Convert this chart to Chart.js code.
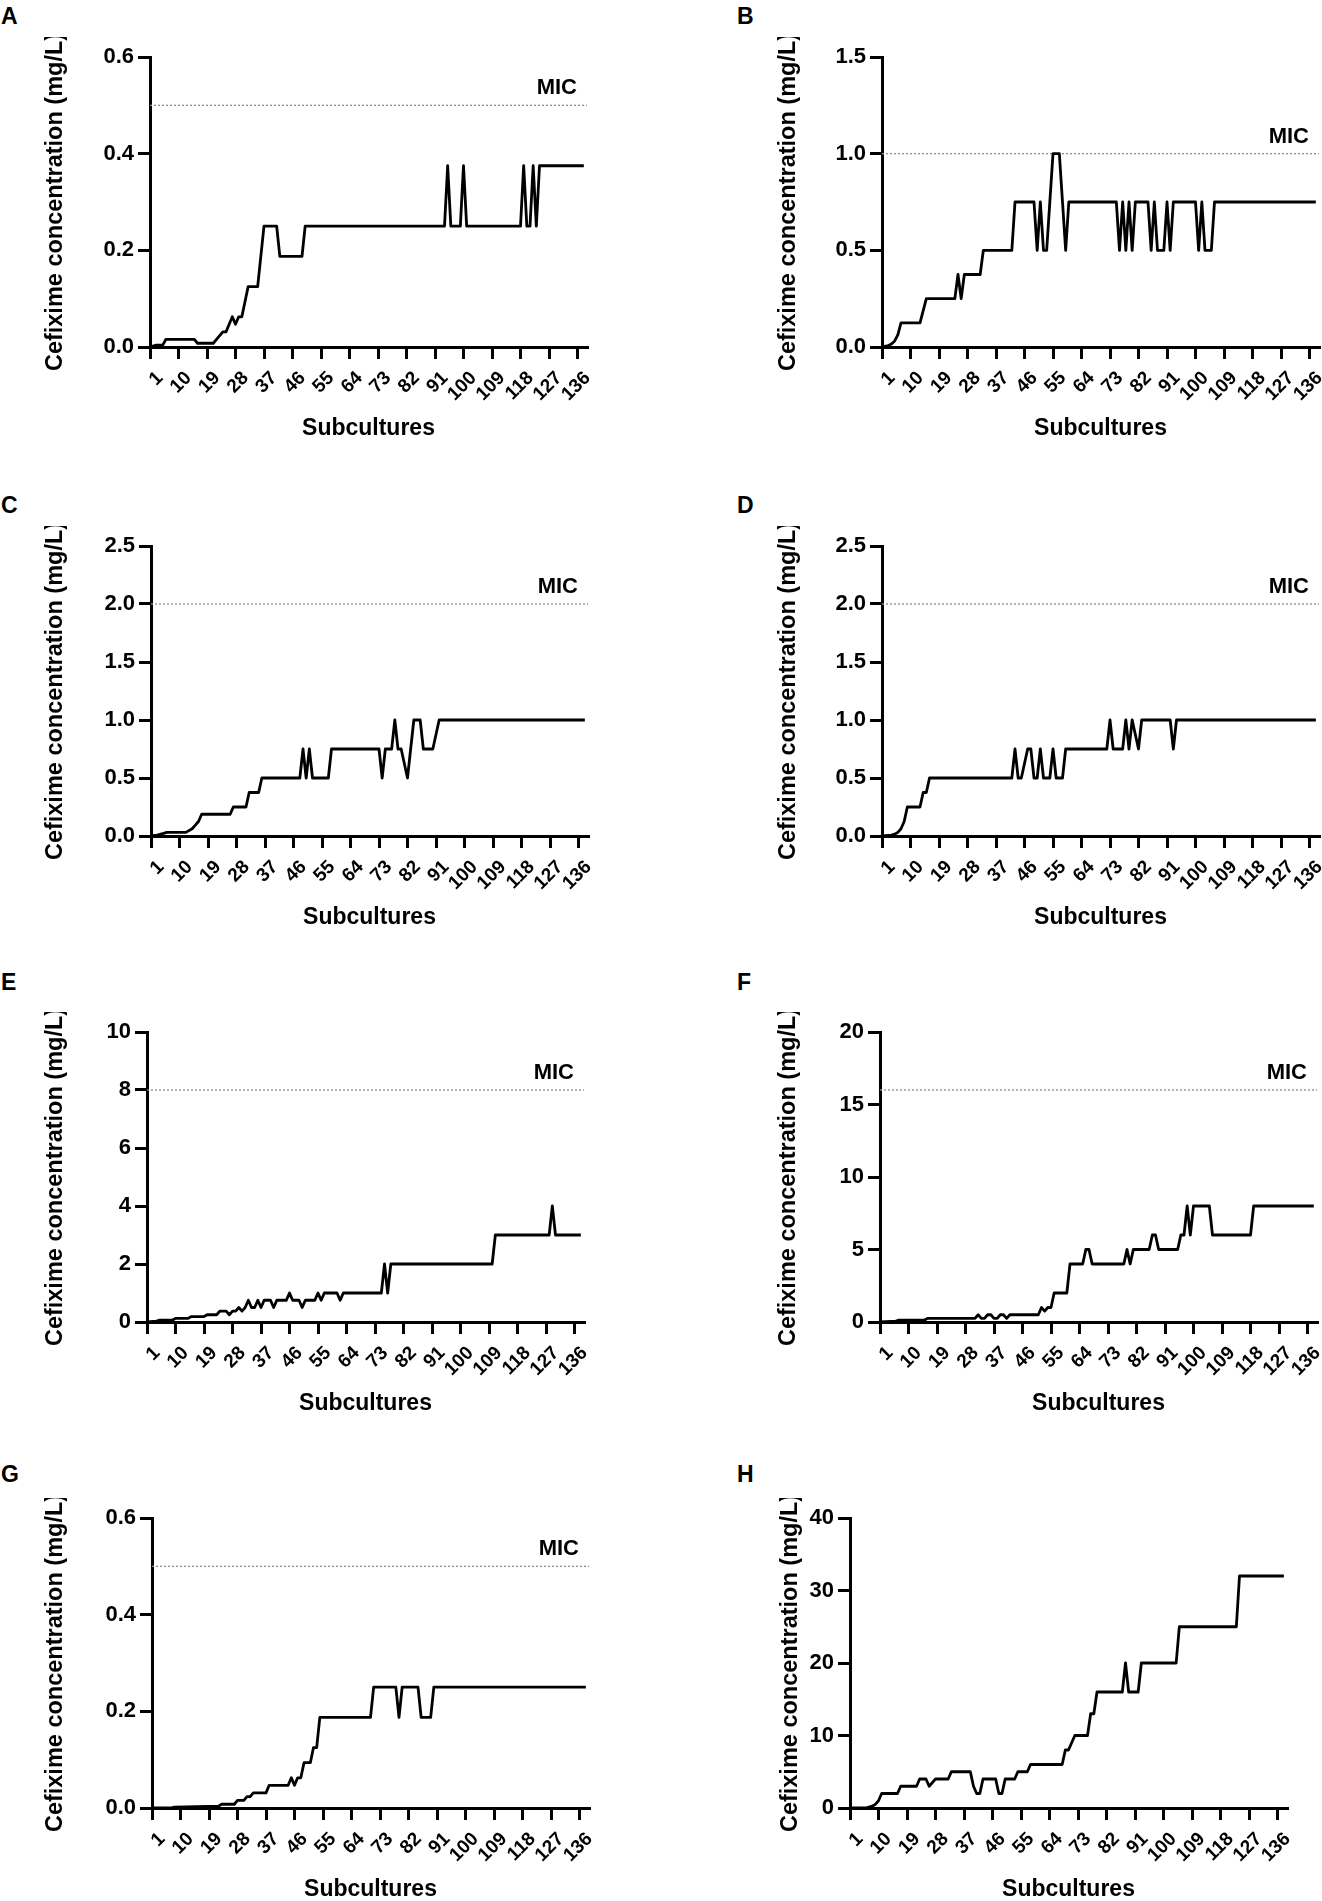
<!DOCTYPE html>
<html>
<head>
<meta charset="utf-8">
<script src="https://cdn.jsdelivr.net/npm/chart.js@4.4.1/dist/chart.umd.min.js"></script>
<style>
html,body{margin:0;padding:0;background:#fff;width:1322px;height:1901px;overflow:hidden;position:relative;}
canvas{position:absolute;}
.letter{position:absolute;font:bold 23px "Liberation Sans",Arial,sans-serif;color:#000;line-height:1;}
</style>
</head>
<body>
<div class="letter" style="left:1px;top:5px">A</div>
<div class="letter" style="left:737px;top:5px">B</div>
<div class="letter" style="left:1px;top:494px">C</div>
<div class="letter" style="left:737px;top:494px">D</div>
<div class="letter" style="left:1px;top:971px">E</div>
<div class="letter" style="left:737px;top:971px">F</div>
<div class="letter" style="left:1px;top:1463px">G</div>
<div class="letter" style="left:737px;top:1463px">H</div>

<canvas id="cA"></canvas><canvas id="cB"></canvas>
<canvas id="cC"></canvas><canvas id="cD"></canvas>
<canvas id="cE"></canvas><canvas id="cF"></canvas>
<canvas id="cG"></canvas><canvas id="cH"></canvas>

<script>
// ---------- DATA (subculture number, cefixime concentration mg/L) ----------
const xTickValues = [1, 10, 19, 28, 37, 46, 55, 64, 73, 82, 91, 100, 109, 118, 127, 136];
const xMin = 1, xMax = 139;

const subA  = [1, 3, 5, 6, 15, 16, 21, 22, 23, 24, 25, 26, 27, 28, 29, 30, 31, 32, 35, 37, 41, 42, 49, 50, 94, 95, 96, 99, 100, 101, 118, 119, 120, 121, 122, 123, 124, 138];
const concA = [0, 0.0039, 0.0039, 0.0156, 0.0156, 0.0078, 0.0078, 0.0156, 0.0234, 0.0313, 0.0313, 0.0469, 0.0625, 0.0469, 0.0625, 0.0625, 0.0938, 0.125, 0.125, 0.25, 0.25, 0.1875, 0.1875, 0.25, 0.25, 0.375, 0.25, 0.25, 0.375, 0.25, 0.25, 0.375, 0.25, 0.25, 0.375, 0.25, 0.375, 0.375];
const yTicksA = [0, 0.2, 0.4, 0.6];
const micA = 0.5;

const subB  = [1, 3, 4, 5, 6, 7, 13, 15, 24, 25, 26, 27, 32, 33, 42, 43, 49, 50, 51, 52, 53, 55, 57, 59, 60, 75, 76, 77, 78, 79, 80, 81, 85, 86, 87, 88, 90, 91, 92, 93, 100, 101, 102, 103, 105, 106, 138];
const concB = [0, 0.0078, 0.0156, 0.0313, 0.0625, 0.125, 0.125, 0.25, 0.25, 0.375, 0.25, 0.375, 0.375, 0.5, 0.5, 0.75, 0.75, 0.5, 0.75, 0.5, 0.5, 1.0, 1.0, 0.5, 0.75, 0.75, 0.5, 0.75, 0.5, 0.75, 0.5, 0.75, 0.75, 0.5, 0.75, 0.5, 0.5, 0.75, 0.5, 0.75, 0.75, 0.5, 0.75, 0.5, 0.5, 0.75, 0.75];
const yTicksB = [0, 0.5, 1.0, 1.5];
const micB = 1.0;

const subC  = [1, 3, 5, 6, 12, 14, 15, 16, 17, 26, 27, 31, 32, 35, 36, 48, 49, 50, 51, 52, 57, 58, 73, 74, 75, 77, 78, 79, 80, 82, 84, 86, 87, 90, 92, 138];
const concC = [0, 0.0078, 0.0234, 0.0313, 0.0313, 0.0625, 0.0938, 0.125, 0.1875, 0.1875, 0.25, 0.25, 0.375, 0.375, 0.5, 0.5, 0.75, 0.5, 0.75, 0.5, 0.5, 0.75, 0.75, 0.5, 0.75, 0.75, 1.0, 0.75, 0.75, 0.5, 1.0, 1.0, 0.75, 0.75, 1.0, 1.0];
const yTicksC = [0, 0.5, 1.0, 1.5, 2.0, 2.5];
const micC = 2.0;

const subD  = [1, 4, 5, 6, 7, 8, 9, 13, 14, 15, 16, 42, 43, 44, 45, 47, 48, 49, 50, 51, 52, 54, 55, 56, 58, 59, 72, 73, 74, 77, 78, 79, 80, 82, 83, 92, 93, 94, 138];
const concD = [0, 0.0078, 0.0156, 0.0313, 0.0625, 0.125, 0.25, 0.25, 0.375, 0.375, 0.5, 0.5, 0.75, 0.5, 0.5, 0.75, 0.75, 0.5, 0.5, 0.75, 0.5, 0.5, 0.75, 0.5, 0.5, 0.75, 0.75, 1.0, 0.75, 0.75, 1.0, 0.75, 1.0, 0.75, 1.0, 1.0, 0.75, 1.0, 1.0];
const yTicksD = [0, 0.5, 1.0, 1.5, 2.0, 2.5];
const micD = 2.0;

const subE  = [1, 4, 5, 9, 10, 14, 15, 19, 20, 23, 24, 26, 27, 28, 29, 30, 31, 32, 33, 34, 35, 36, 37, 38, 40, 41, 42, 45, 46, 47, 49, 50, 51, 54, 55, 56, 57, 61, 62, 63, 75, 76, 77, 78, 110, 111, 128, 129, 130, 138];
const concE = [0, 0.0313, 0.0625, 0.0625, 0.125, 0.125, 0.1875, 0.1875, 0.25, 0.25, 0.375, 0.375, 0.25, 0.375, 0.375, 0.5, 0.375, 0.5, 0.75, 0.5, 0.5, 0.75, 0.5, 0.75, 0.75, 0.5, 0.75, 0.75, 1.0, 0.75, 0.75, 0.5, 0.75, 0.75, 1.0, 0.75, 1.0, 1.0, 0.75, 1.0, 1.0, 2.0, 1.0, 2.0, 2.0, 3.0, 3.0, 4.0, 3.0, 3.0];
const yTicksE = [0, 2, 4, 6, 8, 10];
const micE = 8;

const subF  = [1, 6, 7, 15, 16, 31, 32, 33, 34, 35, 36, 37, 38, 39, 40, 41, 42, 51, 52, 53, 54, 55, 56, 60, 61, 65, 66, 67, 68, 78, 79, 80, 81, 86, 87, 88, 89, 95, 96, 97, 98, 99, 100, 105, 106, 118, 119, 138];
const concF = [0, 0.0625, 0.125, 0.125, 0.25, 0.25, 0.5, 0.25, 0.25, 0.5, 0.5, 0.25, 0.25, 0.5, 0.5, 0.25, 0.5, 0.5, 1.0, 0.75, 1.0, 1.0, 2.0, 2.0, 4.0, 4.0, 5.0, 5.0, 4.0, 4.0, 5.0, 4.0, 5.0, 5.0, 6.0, 6.0, 5.0, 5.0, 6.0, 6.0, 8.0, 6.0, 8.0, 8.0, 6.0, 6.0, 8.0, 8.0];
const yTicksF = [0, 5, 10, 15, 20];
const micF = 16;

const subG  = [1, 7, 8, 22, 23, 27, 28, 30, 31, 32, 33, 37, 38, 44, 45, 46, 47, 48, 49, 51, 52, 53, 54, 70, 71, 78, 79, 80, 85, 86, 89, 90, 138];
const concG = [0, 0, 0.002, 0.0039, 0.0078, 0.0078, 0.0156, 0.0156, 0.0234, 0.0234, 0.0313, 0.0313, 0.0469, 0.0469, 0.0625, 0.0469, 0.0625, 0.0625, 0.0938, 0.0938, 0.125, 0.125, 0.1875, 0.1875, 0.25, 0.25, 0.1875, 0.25, 0.25, 0.1875, 0.1875, 0.25, 0.25];
const yTicksG = [0, 0.2, 0.4, 0.6];
const micG = 0.5;

const subH  = [1, 6, 8, 9, 10, 11, 16, 17, 22, 23, 25, 26, 28, 32, 33, 39, 40, 41, 42, 43, 47, 48, 49, 50, 53, 54, 57, 58, 68, 69, 70, 72, 76, 77, 78, 79, 87, 88, 89, 92, 93, 104, 105, 123, 124, 138];
const concH = [0, 0, 0.25, 0.5, 1, 2, 2, 3, 3, 4, 4, 3, 4, 4, 5, 5, 3, 2, 2, 4, 4, 2, 2, 4, 4, 5, 5, 6, 6, 8, 8, 10, 10, 13, 13, 16, 16, 20, 16, 16, 20, 20, 25, 25, 32, 32];
const yTicksH = [0, 10, 20, 30, 40];
const micH = null;

// ---------- LAYOUT ----------
const FONT = '"Liberation Sans", Arial, Helvetica, sans-serif';
const PLOT_W = 437, PLOT_H = 290, AXIS_BOX = 150, TOP_PAD = 20, BOTTOM_BOX = 110, RIGHT_PAD = 15;

const panels = [
  {id:'cA', sub:subA, conc:concA, yTicks:yTicksA, mic:micA, dec:1, axisX:150, plotTop:57,   titleX:55},
  {id:'cB', sub:subB, conc:concB, yTicks:yTicksB, mic:micB, dec:1, axisX:882, plotTop:57,   titleX:788},
  {id:'cC', sub:subC, conc:concC, yTicks:yTicksC, mic:micC, dec:1, axisX:151, plotTop:546,  titleX:55},
  {id:'cD', sub:subD, conc:concD, yTicks:yTicksD, mic:micD, dec:1, axisX:882, plotTop:546,  titleX:788},
  {id:'cE', sub:subE, conc:concE, yTicks:yTicksE, mic:micE, dec:0, axisX:147, plotTop:1032, titleX:55},
  {id:'cF', sub:subF, conc:concF, yTicks:yTicksF, mic:micF, dec:0, axisX:880, plotTop:1032, titleX:788},
  {id:'cG', sub:subG, conc:concG, yTicks:yTicksG, mic:micG, dec:1, axisX:152, plotTop:1518, titleX:55},
  {id:'cH', sub:subH, conc:concH, yTicks:yTicksH, mic:micH, dec:0, axisX:850, plotTop:1518, titleX:790}
];

const micLabel = {
  id: 'micLabel',
  afterDatasetsDraw(chart, args, opts) {
    if (opts.value == null) return;
    const {ctx, scales} = chart;
    const x = scales.x.getPixelForValue(xMax) - 10;
    const y = scales.y.getPixelForValue(opts.value) - 11;
    ctx.save();
    ctx.font = 'bold 22px ' + FONT;
    ctx.fillStyle = '#000';
    ctx.textAlign = 'right';
    ctx.textBaseline = 'alphabetic';
    ctx.fillText('MIC', x, y);
    ctx.restore();
  }
};

const gridOpts = {drawOnChartArea:false, drawTicks:true, tickLength:12, color:'#000', lineWidth:3};
const borderOpts = {display:true, color:'#000', width:3};

panels.forEach(p => {
  const cv = document.getElementById(p.id);
  const W = AXIS_BOX + PLOT_W + RIGHT_PAD, H = TOP_PAD + PLOT_H + BOTTOM_BOX;
  const left = p.axisX - AXIS_BOX, top = p.plotTop - TOP_PAD;
  cv.width = W; cv.height = H;
  cv.style.width = W + 'px'; cv.style.height = H + 'px';
  cv.style.left = left + 'px'; cv.style.top = top + 'px';

  const datasets = [{
    data: p.sub.map((s, i) => ({x: s, y: p.conc[i]})),
    borderColor: '#000', borderWidth: 2.8, borderJoinStyle: 'round', borderCapStyle: 'butt',
    pointRadius: 0, tension: 0, fill: false, order: 0
  }];
  if (p.mic != null) {
    datasets.push({
      data: [{x: xMin, y: p.mic}, {x: xMax, y: p.mic}],
      borderColor: '#8a8a8a', borderWidth: 1.3, borderDash: [2, 2], pointRadius: 0, fill: false, order: 1
    });
  }
  const yMax = p.yTicks[p.yTicks.length - 1];

  new Chart(cv, {
    type: 'line',
    data: {datasets},
    options: {
      responsive: false, animation: false, devicePixelRatio: 1,
      layout: {padding: {top: TOP_PAD, right: RIGHT_PAD, left: 0, bottom: 0}},
      plugins: {legend: {display: false}, tooltip: {enabled: false}, micLabel: {value: p.mic}},
      scales: {
        x: {
          type: 'linear', min: xMin, max: xMax,
          afterBuildTicks: s => { s.ticks = xTickValues.map(v => ({value: v})); },
          afterFit: s => { s.height = BOTTOM_BOX; s.paddingLeft = 0; s.paddingRight = 0; },
          ticks: {autoSkip: false, minRotation: 45, maxRotation: 45, padding: 8, labelOffset: 10, color: '#000',
                  font: {family: FONT, size: 19, weight: 'bold'}, callback: v => String(v)},
          grid: gridOpts, border: borderOpts,
          title: {display: true, text: 'Subcultures', color: '#000',
                  font: {family: FONT, size: 23, weight: 'bold'}, padding: {top: 0, bottom: 15}}
        },
        y: {
          min: 0, max: yMax,
          afterBuildTicks: s => { s.ticks = p.yTicks.map(v => ({value: v})); },
          afterFit: s => { s.width = AXIS_BOX; },
          ticks: {padding: 4, color: '#000', font: {family: FONT, size: 22, weight: 'bold'},
                  callback: v => Number(v).toFixed(p.dec)},
          grid: gridOpts, border: borderOpts,
          title: {display: true, text: 'Cefixime concentration (mg/L)', color: '#000',
                  font: {family: FONT, size: 23.5, weight: 'bold'},
                  padding: {top: p.titleX - left - 14, bottom: 0}}
        }
      }
    },
    plugins: [micLabel]
  });
});
</script>
</body>
</html>
